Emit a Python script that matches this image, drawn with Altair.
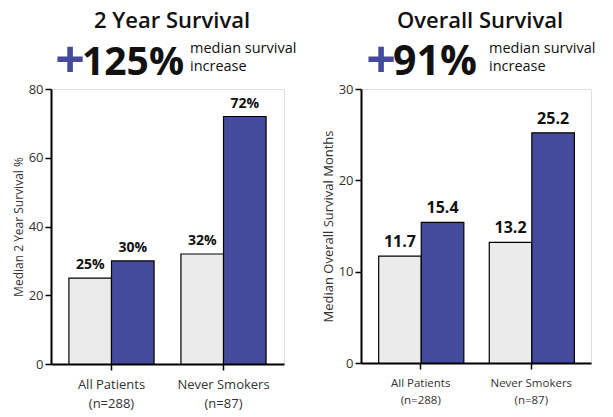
import altair as alt
import pandas as pd

# ---- data ----
groups = ["All Patients|(n=288)", "Never Smokers|(n=87)"]
series = ["Comparator", "Treatment"]
surv2y_values = [25, 30, 32, 72]
surv2y_labels = ["25%", "30%", "32%", "72%"]
os_values = [11.7, 15.4, 13.2, 25.2]
os_labels = ["11.7", "15.4", "13.2", "25.2"]
panel_titles = ["2 Year Survival", "Overall Survival"]
increases = ["125%", "91%"]
increase_note = "median survival\nincrease"
y_titles = ["Median 2 Year Survival %", "Median Overall Survival Months"]

GREY = "#ebebeb"
BLUE = "#454b9c"
FONT = "Open Sans"


def make_df(values, labels):
    rows = []
    i = 0
    for g in groups:
        for s in series:
            rows.append({"group": g, "series": s, "value": values[i], "label": labels[i]})
            i += 1
    return pd.DataFrame(rows)


def panel(values, labels, ymax, yticks, ytitle, title, inc, w, h, st):
    df = make_df(values, labels)
    base = alt.Chart(df).encode(
        x=alt.X("group:N", sort=groups,
                scale=alt.Scale(paddingInner=0.24, paddingOuter=0.16),
                axis=alt.Axis(title=None, labelExpr="split(datum.label, '|')",
                              labelAngle=0, labelFontSize=st["xls"], labelLineHeight=st["xlh"],
                              labelColor="#333", labelFont=FONT, labelPadding=st["xlp"],
                              tickSize=6, tickColor="black", tickWidth=1.5,
                              domainColor="black", domainWidth=2)),
        xOffset=alt.XOffset("series:N", sort=series,
                            scale=alt.Scale(paddingInner=0, paddingOuter=0)),
        y=alt.Y("value:Q", scale=alt.Scale(domain=[0, ymax], nice=False),
                axis=alt.Axis(values=yticks, grid=False, title=ytitle,
                              titleFont=FONT, titleFontSize=st["yts"], titleFontWeight="normal",
                              titleColor="#333", titlePadding=3,
                              labelFont=FONT, labelFontSize=13, labelColor="#333",
                              labelPadding=2, tickSize=6, tickColor="black", tickWidth=1.5,
                              domainColor="black", domainWidth=2)),
    )
    bars = base.mark_bar(stroke="black", strokeWidth=1.2).encode(
        color=alt.Color("series:N", scale=alt.Scale(domain=series, range=[GREY, BLUE]), legend=None)
    )
    vals = base.mark_text(dy=-9, font=FONT, fontWeight="bold", fontSize=st["vs"],
                          color="#111", baseline="alphabetic").encode(text="label:N")

    hdf = pd.DataFrame({"title": [title], "inc": [inc], "note": [increase_note], "plus": ["+"]})
    hb = alt.Chart(hdf)
    t1 = hb.mark_text(font=FONT, fontWeight=600, fontSize=22, color="#111",
                      align="center", baseline="alphabetic").encode(
        x=alt.value(st["tx"]), y=alt.value(-61), text="title:N")
    t2 = hb.mark_text(font=FONT, fontWeight="bold", fontSize=52, color=BLUE,
                      align="center", baseline="middle").encode(
        x=alt.value(st["px"]), y=alt.value(-27), text="plus:N")
    t3 = hb.mark_text(font=FONT, fontWeight="bold", fontSize=st["is"], color="#111",
                      align="left", baseline="alphabetic").encode(
        x=alt.value(st["ix"]), y=alt.value(-14), text="inc:N")
    t4 = hb.mark_text(font=FONT, fontSize=14.5, color="#111", lineBreak="\n", lineHeight=18,
                      align="left", baseline="alphabetic").encode(
        x=alt.value(st["nx"]), y=alt.value(-36), text="note:N")
    return alt.layer(bars, vals, t1, t2, t3, t4).properties(width=w, height=h)


left = panel(surv2y_values, surv2y_labels, 80, [0, 20, 40, 60, 80], y_titles[0],
             panel_titles[0], increases[0], 233, 275,
             {"tx": 121, "px": 19, "ix": 31, "nx": 139, "is": 39, "vs": 14,
              "xls": 13, "xlh": 19, "xlp": 8, "yts": 12})
right = panel(os_values, os_labels, 30, [0, 10, 20, 30], y_titles[1],
              panel_titles[1], increases[1], 230, 274,
              {"tx": 119, "px": 20, "ix": 32, "nx": 128, "is": 41, "vs": 16,
               "xls": 11.5, "xlh": 17, "xlp": 8, "yts": 13})

chart = alt.hconcat(left, right, spacing=77, bounds="flush").properties(
    padding={"left": 11, "top": 9, "right": 5, "bottom": 5}
).configure_view(stroke=None).configure(font=FONT)

chart.save("out.html", embed_options={"renderer": "svg", "actions": False})
